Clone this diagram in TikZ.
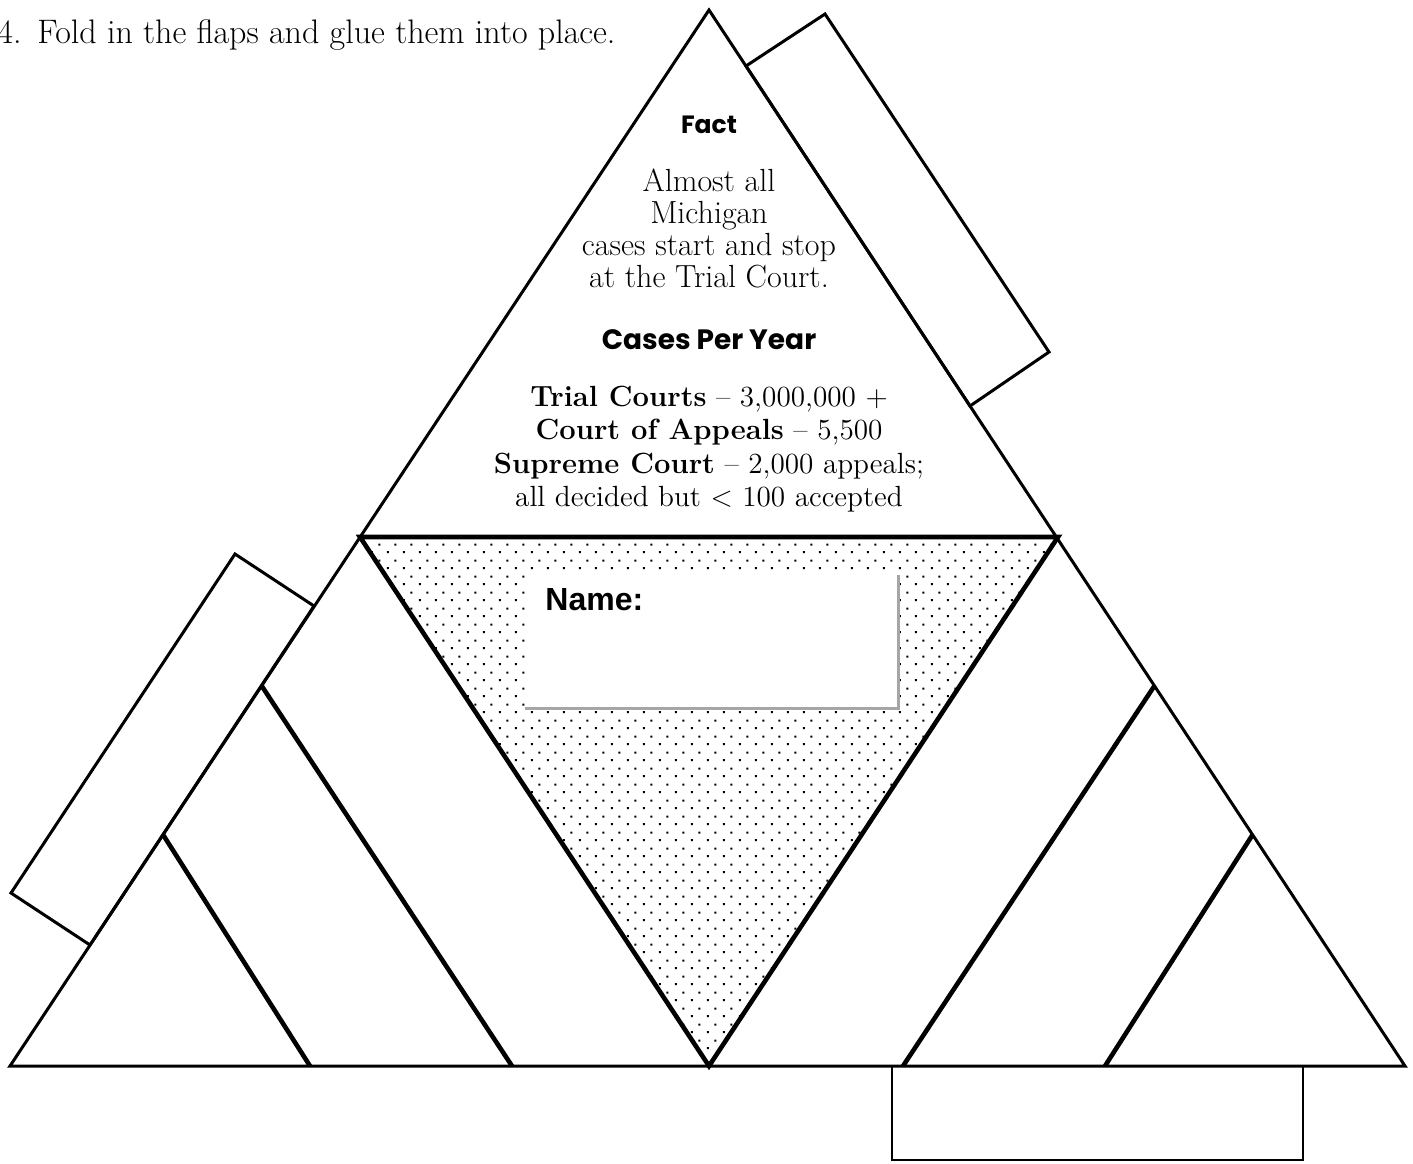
\documentclass[tikz,border=0pt]{standalone}
\usepackage{fontspec}
\usetikzlibrary{positioning}
\usetikzlibrary{calc}
\usetikzlibrary{patterns}
\newfontfamily\gothicfont{Poppins}
\newfontfamily\arialfont{Liberation Sans}

\pgfdeclarepatternformonly{stagdots}{\pgfqpoint{0pt}{0pt}}{\pgfqpoint{8pt}{8pt}}{\pgfqpoint{8pt}{8pt}}{%
  \pgfpathrectangle{\pgfqpoint{1.5pt}{1.5pt}}{\pgfqpoint{1.1pt}{1.1pt}}%
  \pgfpathrectangle{\pgfqpoint{5.5pt}{5.5pt}}{\pgfqpoint{1.1pt}{1.1pt}}%
  \pgfusepath{fill}}

\begin{document}
\begin{tikzpicture}[x=0.5pt,y=-0.5pt]
		\tikzstyle{outline} = [draw=black, line width=1.5pt, line join=miter]
		\tikzstyle{fold} = [draw=black, line width=2.3pt]
		\tikzstyle{flap} = [draw=black, line width=1.5pt, fill=white]
		\tikzstyle{body} = [align=center, inner sep=0pt, font=\fontsize{16}{16}\selectfont]
		\tikzstyle{head} = [inner sep=0pt, font=\gothicfont\bfseries\fontsize{13}{15}\selectfont]

		\useasboundingbox (0,0) rectangle (1413,1163);

		% corners of the big triangle
		\coordinate (apex) at (709,10);
		\coordinate (baseL) at (10,1066);
		\coordinate (baseR) at (1405,1066);
		\coordinate (baseM) at (709,1066);
		\coordinate (midL) at (360,537);
		\coordinate (midR) at (1058,537);

		% glue flaps
		\draw [flap] (746,66) -- (825,14) -- (1049,352) -- (970,406) -- cycle;
		\draw [flap] (314,606) -- (235,554) -- (11,893) -- (90,945) -- cycle;
		\draw [flap, line width=1.3pt] (892,1066) rectangle (1303,1160);

		% dotted middle triangle
		\fill [pattern=stagdots] (midL) -- (midR) -- (baseM) -- cycle;
		\draw [fold, line join=miter] (midL) -- (midR) -- (baseM) -- cycle;

		% outer triangle
		\draw [outline] (apex) -- (baseR) -- (baseL) -- cycle;

		% fold lines
		\draw [fold] ($(baseL)!0.36!(apex)$) -- (512,1066);
		\draw [fold] ($(baseL)!0.219!(apex)$) -- (310,1066);
		\draw [fold] ($(baseR)!0.36!(apex)$) -- (903,1066);
		\draw [fold] ($(baseR)!0.219!(apex)$) -- (1105,1066);

		% name box
		\node (nameBox) [fill=white, inner sep=0pt, minimum width=186.5pt, minimum height=68pt, anchor=north west] at (525,572) {};
		\draw [gray!70, line width=1.4pt] (nameBox.north east) ++(0,3) -- (nameBox.south east) -- (nameBox.south west);
		\node (nameLabel) [anchor=west, inner sep=0pt, font=\arialfont\bfseries\fontsize{16}{18}\selectfont] at (545,600) {Name:};

		% texts
		\node (instruction) [anchor=west, inner sep=0pt, font=\fontsize{17}{18}\selectfont] at (-3,35) {4.\hspace{8pt}Fold in the flaps and glue them into place.};
		\node (factHead) [head, font=\gothicfont\bfseries\fontsize{12.5}{15}\selectfont] at (709,125) {Fact};
		\node (factText) [body] at (709,228) {Almost all\\Michigan\\cases start and stop\\at the Trial Court.};
		\node (casesHead) [head, font=\gothicfont\bfseries\fontsize{14}{15}\selectfont] at (709,340) {Cases Per Year};
		\node (casesText) [body, font=\fontsize{14.6}{16.75}\selectfont] at (709,449) {\textbf{Trial Courts} -- 3,000,000 +\\\textbf{Court of Appeals} -- 5,500\\\textbf{Supreme Court} -- 2,000 appeals;\\all decided but < 100 accepted};
	\end{tikzpicture}
\end{document}
